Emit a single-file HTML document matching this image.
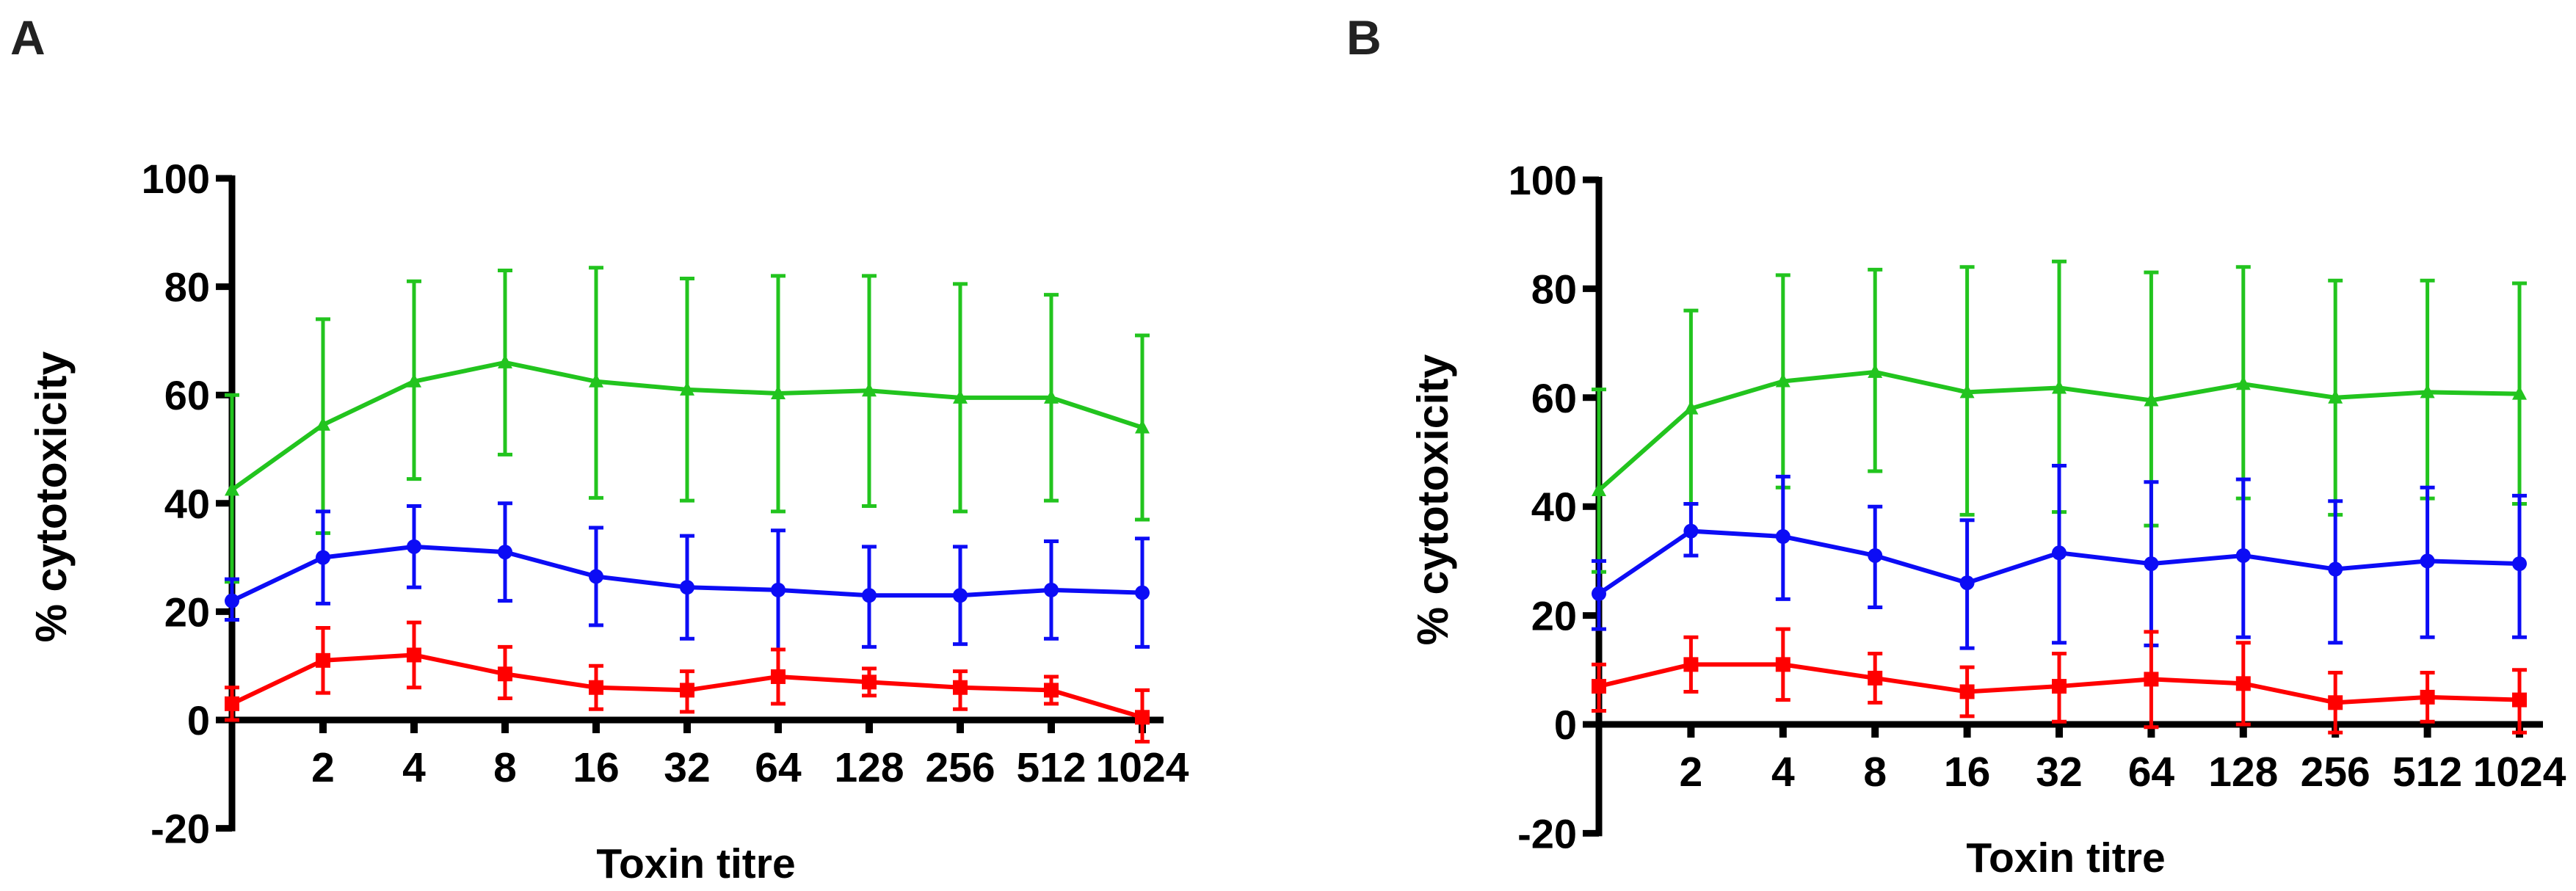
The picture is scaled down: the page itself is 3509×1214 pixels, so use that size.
<!DOCTYPE html>
<html><head><meta charset="utf-8"><style>
html,body{margin:0;padding:0;background:#fff;}
svg{display:block;font-family:"Liberation Sans",Arial,sans-serif;font-weight:bold;}
</style></head><body>
<svg id="chart" width="3509" height="1214" viewBox="0 0 3509 1214" xmlns="http://www.w3.org/2000/svg">
<text x="14" y="74" font-size="66" fill="#222">A</text>
<text x="1834" y="74" font-size="66" fill="#222">B</text>
</svg>
<script>
const categories = ["", "2", "4", "8", "16", "32", "64", "128", "256", "512", "1024"];
const yTicks = [100, 80, 60, 40, 20, 0, -20];

const aGreen = [42.5, 54.5, 62.5, 66, 62.5, 61, 60.3, 60.8, 59.5, 59.5, 54];
const aGreenHi = [60, 74, 81, 83, 83.5, 81.5, 82, 82, 80.5, 78.5, 71];
const aGreenLo = [25.5, 34.5, 44.5, 49, 41, 40.5, 38.5, 39.5, 38.5, 40.5, 37];
const aBlue = [22, 30, 32, 31, 26.5, 24.5, 24, 23, 23, 24, 23.5];
const aBlueHi = [26, 38.5, 39.5, 40, 35.5, 34, 35, 32, 32, 33, 33.5];
const aBlueLo = [18.5, 21.5, 24.5, 22, 17.5, 15, 13, 13.5, 14, 15, 13.5];
const aRed = [3, 11, 12, 8.5, 6, 5.5, 8, 7, 6, 5.5, 0.5];
const aRedHi = [6, 17, 18, 13.5, 10, 9, 13, 9.5, 9, 8, 5.5];
const aRedLo = [0, 5, 6, 4, 2, 1.5, 3, 4.5, 2, 3, -4];

const bGreen = [43, 58, 63, 64.7, 61, 61.8, 59.5, 62.5, 60, 61, 60.7];
const bGreenHi = [61.5, 76, 82.5, 83.5, 84, 85, 83, 84, 81.5, 81.5, 81];
const bGreenLo = [28, 40.5, 43.5, 46.5, 38.5, 39, 36.5, 41.5, 38.5, 41.5, 40.5];
const bBlue = [24, 35.5, 34.5, 31, 26, 31.5, 29.5, 31, 28.5, 30, 29.5];
const bBlueHi = [30, 40.5, 45.5, 40, 37.5, 47.5, 44.5, 45, 41, 43.5, 42];
const bBlueLo = [17.5, 31, 23, 21.5, 14, 15, 14.5, 16, 15, 16, 16];
const bRed = [7, 11, 11, 8.5, 6, 7, 8.3, 7.5, 4, 5, 4.5];
const bRedHi = [11, 16, 17.5, 13, 10.5, 13, 17, 15, 9.5, 9.5, 10];
const bRedLo = [2.5, 6, 4.5, 4, 1.5, 0.5, -0.5, 0, -1.5, 0.5, -1.5];

const NS = "http://www.w3.org/2000/svg";
const svg = document.getElementById("chart");
function mk(tag, attrs, parent) {
  const e = document.createElementNS(NS, tag);
  for (const k in attrs) e.setAttribute(k, attrs[k]);
  (parent || svg).appendChild(e);
  return e;
}

function drawPanel(p, cfg) {
  const g = mk("g", {});
  
  
  const xs = i => cfg.x0 + i * cfg.dx;
  const ys = v => cfg.y0 + (cfg.y100 - cfg.y0) * v / 100;
  const yBot = ys(-20);
  const ya = mk("line", {x1: cfg.x0, y1: ys(100) - 4, x2: cfg.x0, y2: yBot + 4, stroke: "#000", "stroke-width": 9}, g);
  
  
  yTicks.forEach(t => {
    const tk = mk("line", {x1: cfg.x0 - 22, y1: ys(t), x2: cfg.x0, y2: ys(t), stroke: "#000", "stroke-width": 9}, g);
    
    
    const tl = mk("text", {x: cfg.x0 - 30, y: ys(t) + 20, "font-size": 56, "text-anchor": "end", fill: "#000"}, g);
    tl.textContent = t;
    
    
  });
  const xa = mk("line", {x1: cfg.x0 - 22, y1: ys(0), x2: cfg.xEnd, y2: ys(0), stroke: "#000", "stroke-width": 9}, g);
  
  
  categories.forEach((c, i) => {
    if (i === 0) return;
    const tk = mk("line", {x1: xs(i), y1: ys(0), x2: xs(i), y2: ys(0) + 18, stroke: "#000", "stroke-width": 10}, g);
    
    
    const tl = mk("text", {x: xs(i), y: ys(0) + 84, "font-size": 57, "text-anchor": "middle", fill: "#000"}, g);
    tl.textContent = c;
    
    
  });
  const xt = mk("text", {x: cfg.xtX, y: cfg.xtY, "font-size": 57, "text-anchor": "middle", fill: "#000"}, g);
  xt.textContent = "Toxin titre";
  
  
  const yt = mk("text", {x: 0, y: 0, "font-size": 59, "text-anchor": "middle", fill: "#000", transform: "translate(" + cfg.ytX + "," + cfg.ytY + ") rotate(-90)"}, g);
  yt.textContent = "% cytotoxicity";
  
  

  cfg.series.forEach(s => {
    const sg = mk("g", {}, g);
    
    
    s.mean.forEach((v, i) => {
      const x = xs(i);
      const eb = mk("path", {d: "M" + x + " " + ys(s.hi[i]) + "V" + ys(s.lo[i]) + "M" + (x - 10) + " " + ys(s.hi[i]) + "H" + (x + 10) + "M" + (x - 10) + " " + ys(s.lo[i]) + "H" + (x + 10), stroke: s.color, "stroke-width": 5, fill: "none"}, sg);
      
      
    });
    const pts = s.mean.map((v, i) => xs(i) + "," + ys(v)).join(" ");
    const ln = mk("polyline", {points: pts, stroke: s.color, "stroke-width": 6, fill: "none"}, sg);
    
    
    s.mean.forEach((v, i) => {
      const x = xs(i), y = ys(v);
      let m;
      if (s.shape === "tri") m = mk("polygon", {points: (x) + "," + (y - 11) + " " + (x - 10) + "," + (y + 8) + " " + (x + 10) + "," + (y + 8), fill: s.color}, sg);
      else if (s.shape === "circ") m = mk("circle", {cx: x, cy: y, r: 10, fill: s.color}, sg);
      else m = mk("rect", {x: x - 10, y: y - 10, width: 20, height: 20, fill: s.color}, sg);
      
      
    });
  });
}

drawPanel("a", {x0: 316, dx: 124, y0: 981, y100: 243, xEnd: 1585, xtX: 948, xtY: 1196, ytX: 90, ytY: 677,
  series: [
    {name: "green", color: "#22c41e", shape: "tri", mean: aGreen, hi: aGreenHi, lo: aGreenLo},
    {name: "blue", color: "#0c0cf5", shape: "circ", mean: aBlue, hi: aBlueHi, lo: aBlueLo},
    {name: "red", color: "#ff0000", shape: "sq", mean: aRed, hi: aRedHi, lo: aRedLo}
  ]});
drawPanel("b", {x0: 2178, dx: 125.4, y0: 987, y100: 245, xEnd: 3464, xtX: 2814, xtY: 1188, ytX: 1972, ytY: 681,
  series: [
    {name: "green", color: "#22c41e", shape: "tri", mean: bGreen, hi: bGreenHi, lo: bGreenLo},
    {name: "blue", color: "#0c0cf5", shape: "circ", mean: bBlue, hi: bBlueHi, lo: bBlueLo},
    {name: "red", color: "#ff0000", shape: "sq", mean: bRed, hi: bRedHi, lo: bRedLo}
  ]});
</script>
</body></html>
